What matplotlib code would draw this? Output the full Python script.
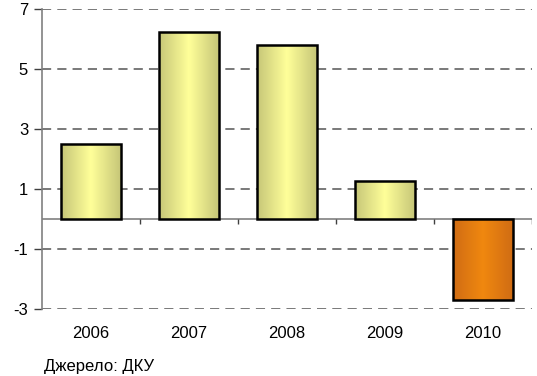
import matplotlib.pyplot as plt
import numpy as np
from matplotlib.colors import LinearSegmentedColormap

plt.rcParams['font.family'] = ['Liberation Sans', 'DejaVu Sans']

# data
years = ['2006', '2007', '2008', '2009', '2010']
values = [2.5, 6.23, 5.8, 1.27, -2.7]
y_ticks = [7, 5, 3, 1, -1, -3]
source = 'Джерело: ДКУ'

yellow = LinearSegmentedColormap.from_list('yel', ['#c6c678', '#ffff99', '#c6c678'])
orange = LinearSegmentedColormap.from_list('org', ['#d06c14', '#f0880f', '#d06c14'])

fig = plt.figure(figsize=(5.37, 3.76), dpi=100)
ax = fig.add_axes([42 / 537, (376 - 309) / 376, 490 / 537, 300 / 376])

x = np.arange(len(years))
bars = ax.bar(x, values, width=0.61, facecolor='none', edgecolor='black',
              linewidth=1.8, zorder=4)

# horizontal gradient inside each bar
grad = np.linspace(0, 1, 256).reshape(1, -1)
for i, b in enumerate(bars):
    cmap = orange if values[i] < 0 else yellow
    x0, y0 = b.get_x(), b.get_y()
    w, h = b.get_width(), b.get_height()
    im = ax.imshow(grad, cmap=cmap, aspect='auto', zorder=3,
                   extent=(x0, x0 + w, min(y0, y0 + h), max(y0, y0 + h)))
    im.set_clip_path(b)

ax.set_xlim(-0.5, len(years) - 0.5)
ax.set_ylim(-3, 7)

# dashed grid
for t in y_ticks:
    ax.axhline(t, color='#555555', linestyle=(0, (6, 4)), linewidth=1.1, zorder=1)

# zero line with category separators
ax.axhline(0, color='#808080', linewidth=1.2, zorder=2)
ax.vlines(np.arange(0.5, len(years)), -0.17, 0, color='#404040', linewidth=1.0, zorder=2)

ax.set_yticks(y_ticks)
ax.set_yticklabels([str(t) for t in y_ticks], fontsize=12)
ax.tick_params(axis='y', direction='out', length=6, width=1, color='#404040', pad=4)
ax.set_xticks(x)
ax.set_xticklabels(years, fontsize=12)
ax.tick_params(axis='x', length=0, pad=12)

for s in ['top', 'right', 'bottom']:
    ax.spines[s].set_visible(False)
ax.spines['left'].set_color('#808080')
ax.spines['left'].set_linewidth(1.2)

fig.text(44 / 537, 1 - 367 / 376, source, fontsize=12, va='center', ha='left')

fig.savefig('out.png', dpi=100)
